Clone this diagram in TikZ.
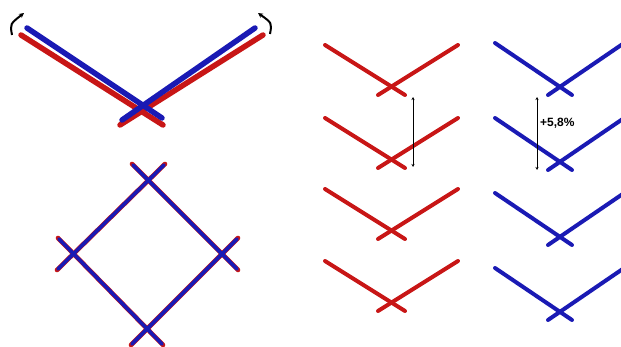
\documentclass[tikz,border=0pt]{standalone}
\usepackage{fontspec}
\setsansfont{Liberation Sans}
\usepackage{tikz}
\usetikzlibrary{arrows.meta}
\usepackage{xcolor}
\definecolor{BarRed}{HTML}{C81616}
\definecolor{BarBlue}{HTML}{1A1AB4}

\begin{document}
\begin{tikzpicture}[
    x=1pt, y=-1pt,
    redbar/.style={draw=BarRed, line width=4pt, line cap=round},
    bluebar/.style={draw=BarBlue, line width=4pt, line cap=round},
    bigred/.style={redbar, line width=5.5pt},
    bigblue/.style={bluebar, line width=5.5pt},
    turn/.style={-{Stealth[length=5pt, width=5pt]}, line width=2pt},
    gap/.style={{Stealth[length=3pt, width=3pt]}-{Stealth[length=3pt, width=3pt]}, line width=0.8pt},
  ]
    \useasboundingbox (0,0) rectangle (621,347);

    % opening of the hinge, top left
    \draw[bigred]  (21,35)  -- (163,125);
    \draw[bigred]  (263,35) -- (120,125);
    \draw[bigblue] (27,28)  -- (162,118);
    \draw[bigblue] (255,28) -- (122,120);
    \draw[turn] (12,35)  .. controls (10,24)  .. (24,13);
    \draw[turn] (270,34) .. controls (272,23) .. (258,13);

    % closed frame, bottom left
    \begin{scope}[redbar, line width=4.6pt]
      \draw (165,164) -- (57,270);
      \draw (132,164) -- (238,270);
      \draw (58,238)  -- (163,345);
      \draw (238,238) -- (131,345);
    \end{scope}
    \begin{scope}[bluebar, line width=3.6pt]
      \draw (164,165) -- (58,269);
      \draw (133,165) -- (237,269);
      \draw (59,239)  -- (162,344);
      \draw (237,239) -- (132,344);
    \end{scope}

    % red column
    \foreach \y in {45,118,189,261} {
      \draw[redbar] (325,\y) -- (405,\y+50);
      \draw[redbar] (458,\y) -- (378,\y+50);
    }
    \coordinate (rtop) at (413,97);
    \coordinate (rbot) at (413,167);
    \draw[gap] (rtop) -- (rbot);

    % blue column
    \begin{scope}
      \clip (0,0) rectangle (621,347);
      \foreach \y in {43,118,193,268} {
        \draw[bluebar] (495,\y) -- (572,\y+52);
        \draw[bluebar] (548,\y+52) -- (630,\y-4);
      }
    \end{scope}
    \coordinate (btop) at (537,97);
    \coordinate (bbot) at (537,170);
    \draw[gap] (btop) -- (bbot);
    \node[anchor=west, font=\sffamily\bfseries\fontsize{12}{14}\selectfont, inner sep=0pt]
      (pct) at (540,123) {+5,8\%};
\end{tikzpicture}
\end{document}
